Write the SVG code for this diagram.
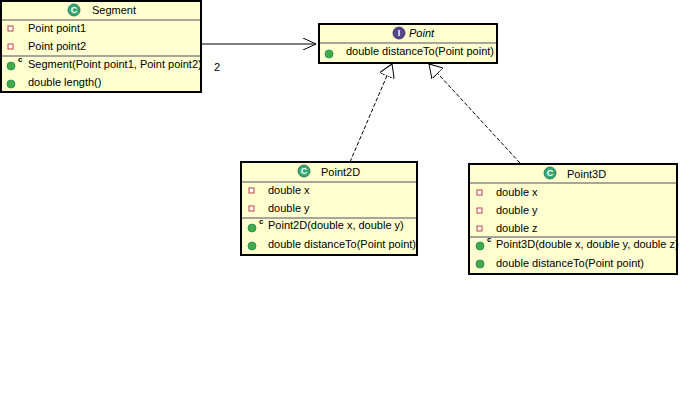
<svg xmlns="http://www.w3.org/2000/svg" width="690" height="412" viewBox="0 0 690 412">
<style>
.box{fill:#ffffd0;stroke:#000;stroke-width:2}
.sep{stroke:#888;stroke-width:1.5}
text{font-family:"Liberation Sans",Arial,sans-serif;font-size:11px;fill:#000}
.t{text-anchor:middle}
.f{fill:#fff;stroke:#b44;stroke-width:1}
.fi{fill:#e88}
.m{fill:#4a4;stroke:#286;stroke-width:0.8}
.cl{fill:#3a7;stroke:#264;stroke-width:0.8}
.it{fill:#548;stroke:#326;stroke-width:0.8}
.ic{font-size:9px;font-weight:bold;fill:#fff;text-anchor:middle}
.c{font-size:8px;font-weight:bold;fill:#000}
.ln{stroke:#000;stroke-width:1;fill:none}
</style>
<defs>
<marker id="open" markerWidth="14" markerHeight="12" refX="13" refY="6" orient="auto" markerUnits="userSpaceOnUse"><path d="M0,0 L13,6 L0,12" fill="none" stroke="#000"/></marker>
<marker id="tri" markerWidth="14" markerHeight="16" refX="13" refY="8" orient="auto" markerUnits="userSpaceOnUse"><path d="M0,0 L13,8 L0,16 Z" fill="#fff" stroke="#000"/></marker>
</defs>
<rect width="690" height="412" fill="#fff"/>
<g id="connectors">
<line class="ln" x1="202" y1="44" x2="316" y2="44" marker-end="url(#open)"/>
<text x="214" y="71">2</text>
<line class="ln" x1="350" y1="162" x2="392" y2="64" stroke-dasharray="4,2" marker-end="url(#tri)"/>
<line class="ln" x1="520" y1="163" x2="429" y2="64" stroke-dasharray="4,2" marker-end="url(#tri)"/>
</g>
<g id="Segment">
<rect class="box" x="1" y="1" width="200" height="91"/>
<line class="sep" x1="2" y1="20" x2="200" y2="20"/>
<line class="sep" x1="2" y1="56" x2="200" y2="56"/>
<circle class="cl" cx="74" cy="10" r="6"/><text class="ic" x="74" y="13">C</text>
<text x="92" y="14">Segment</text>
<rect class="f" x="8" y="26" width="5" height="5"/><text x="28" y="32">Point point1</text>
<rect class="f" x="8" y="44" width="5" height="5"/><text x="28" y="50">Point point2</text>
<circle class="m" cx="11" cy="66" r="4"/><text class="c" x="18" y="62">c</text><text x="28" y="68">Segment(Point point1, Point point2)</text>
<circle class="m" cx="11" cy="84" r="4"/><text x="28" y="86">double length()</text>
</g>
<g id="Point">
<rect class="box" x="319" y="24" width="178" height="39"/>
<line class="sep" x1="320" y1="43" x2="496" y2="43"/>
<circle class="it" cx="399" cy="33" r="6"/><text class="ic" x="399" y="36">I</text>
<text x="409" y="37" font-style="italic">Point</text>
<circle class="m" cx="329" cy="54" r="4"/><text x="346" y="55">double distanceTo(Point point)</text>
</g>
<g id="Point2D">
<rect class="box" x="241" y="162" width="176" height="93"/>
<line class="sep" x1="242" y1="182" x2="416" y2="182"/>
<line class="sep" x1="242" y1="218" x2="416" y2="218"/>
<circle class="cl" cx="304" cy="171" r="6"/><text class="ic" x="304" y="174">C</text>
<text x="321" y="176">Point2D</text>
<rect class="f" x="249" y="188" width="5" height="5"/><text x="268" y="194">double x</text>
<rect class="f" x="249" y="206" width="5" height="5"/><text x="268" y="212">double y</text>
<circle class="m" cx="252" cy="228" r="4"/><text class="c" x="259" y="224">c</text><text x="268" y="229">Point2D(double x, double y)</text>
<circle class="m" cx="252" cy="246" r="4"/><text x="268" y="248">double distanceTo(Point point)</text>
</g>
<g id="Point3D">
<rect class="box" x="469" y="164" width="208" height="110"/>
<line class="sep" x1="470" y1="183" x2="676" y2="183"/>
<line class="sep" x1="470" y1="237" x2="676" y2="237"/>
<circle class="cl" cx="550" cy="173" r="6"/><text class="ic" x="550" y="176">C</text>
<text x="567" y="178">Point3D</text>
<rect class="f" x="477" y="190" width="5" height="5"/><text x="496" y="196">double x</text>
<rect class="f" x="477" y="208" width="5" height="5"/><text x="496" y="214">double y</text>
<rect class="f" x="477" y="226" width="5" height="5"/><text x="496" y="232">double z</text>
<circle class="m" cx="480" cy="246" r="4"/><text class="c" x="487" y="242">c</text><text x="496" y="248">Point3D(double x, double y, double z)</text>
<circle class="m" cx="480" cy="264" r="4"/><text x="496" y="267">double distanceTo(Point point)</text>
</g>
</svg>
